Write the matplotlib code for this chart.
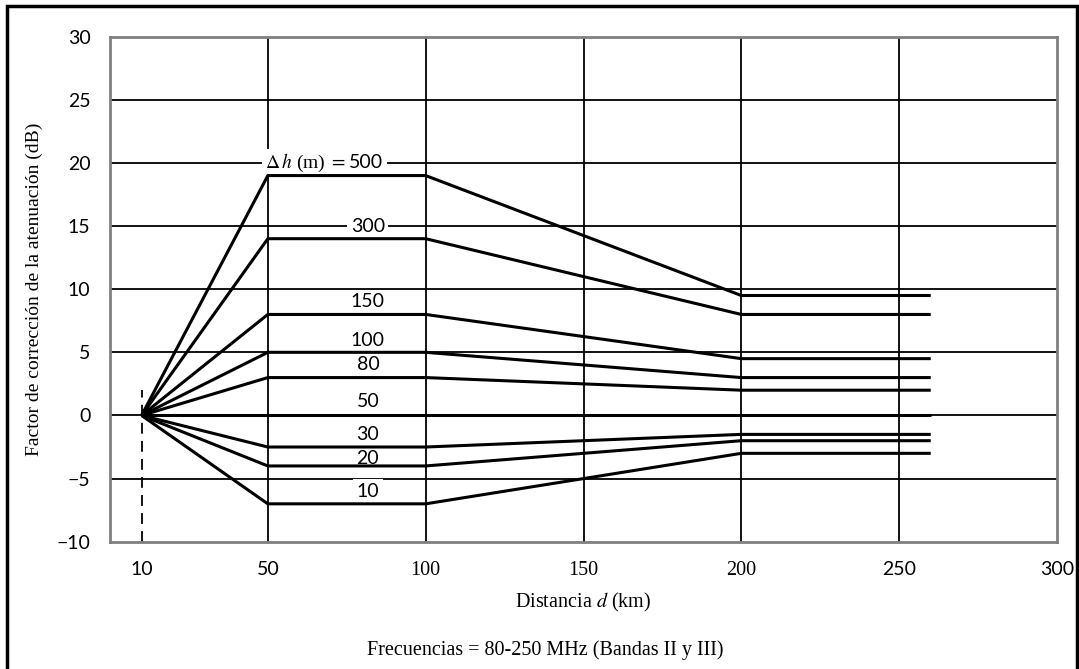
import matplotlib
matplotlib.use("Agg")
import matplotlib.pyplot as plt
from matplotlib.patches import Rectangle

plt.rcParams['mathtext.fontset'] = 'stix'

# Data
distances = [10, 50, 100, 200, 260]
series = {
    "500": [0, 19, 19, 9.5, 9.5],
    "300": [0, 14, 14, 8, 8],
    "150": [0, 8, 8, 4.5, 4.5],
    "100": [0, 5, 5, 3, 3],
    "80": [0, 3, 3, 2, 2],
    "50": [0, 0, 0, 0, 0],
    "30": [0, -2.5, -2.5, -1.5, -1.5],
    "20": [0, -4, -4, -2, -2],
    "10": [0, -7, -7, -3, -3],
}
label_y = {"500": 20, "300": 15, "150": 9.0, "100": 5.9, "80": 4.0,
           "50": 1.1, "30": -1.5, "20": -3.4, "10": -6.0}
x_ticks = [10, 50, 100, 150, 200, 250, 300]
x_tick_labels = ["10", "50", "100", "150", "200", "250", "300"]
y_ticks = [-10, -5, 0, 5, 10, 15, 20, 25, 30]
y_tick_labels = ["\u221210", "\u22125", "0", "5", "10", "15", "20", "25", "30"]

fig = plt.figure(figsize=(10.79, 6.69), dpi=100)
ax = fig.add_axes([110/1079, 1-541.7/669, (1057-110)/1079, (541.7-36.7)/669])

ax.set_xlim(0, 300)
ax.set_ylim(-10, 30)

# grid
for x in [50, 100, 150, 200, 250]:
    ax.axvline(x, color='black', lw=1.3, zorder=1)
for y in [-5, 0, 5, 10, 15, 20, 25]:
    ax.axhline(y, color='black', lw=1.3, zorder=1)
ax.plot([10, 10], [-10, 2], color='black', lw=1.3, ls=(0, (6, 4)), zorder=1)

for k, vals in series.items():
    ax.plot(distances, vals, color='black', lw=2.2, zorder=3, solid_capstyle='butt')

for k, yv in label_y.items():
    if k == "500":
        ax.text(76.0, yv, r"$\Delta\,h$ (m) $=$ ", ha='right', va='center',
                fontsize=14, family='Liberation Serif', zorder=2,
                bbox=dict(facecolor='white', edgecolor='none', pad=2.0))
        ax.text(86.5, yv, "500", ha='right', va='center', fontsize=14,
                family='Lato', zorder=2,
                bbox=dict(facecolor='white', edgecolor='none', pad=2.5))
    else:
        ax.text(81.7, yv, k, ha='center', va='center', fontsize=14,
                family='Lato', zorder=2,
                bbox=dict(facecolor='white', edgecolor='none', pad=2.5))

for s in ax.spines.values():
    s.set_color('#808080')
    s.set_linewidth(2)

ax.set_xticks(x_ticks)
ax.set_xticklabels(x_tick_labels)
ax.set_yticks(y_ticks)
ax.set_yticklabels(y_tick_labels, family='Lato', fontsize=14)
ax.tick_params(axis='both', length=0)
ax.tick_params(axis='x', pad=14)
ax.tick_params(axis='y', pad=14)
for lbl in ax.get_xticklabels():
    if lbl.get_text() in ("100", "150", "200"):
        lbl.set_family('Liberation Serif')
        lbl.set_fontsize(14.5)
    else:
        lbl.set_family('Lato')
        lbl.set_fontsize(14)

ax.set_ylabel("Factor de corrección de la atenuación (dB)", family='Liberation Serif',
              fontsize=14, labelpad=10)
ax.set_xlabel(r"Distancia $d$ (km)", family='Liberation Serif', fontsize=14.5, labelpad=8)

fig.text(0.505, 1-650/669, "Frecuencias = 80-250 MHz (Bandas II y III)",
         ha='center', va='center', family='Liberation Serif', fontsize=14.5)

# outer frame
fig.patches.append(Rectangle((7/1079, -0.01), (1077-7)/1079, 1.01-6/669,
                             transform=fig.transFigure, fill=False,
                             edgecolor='black', lw=2.5))

fig.savefig("out.png", dpi=100)
